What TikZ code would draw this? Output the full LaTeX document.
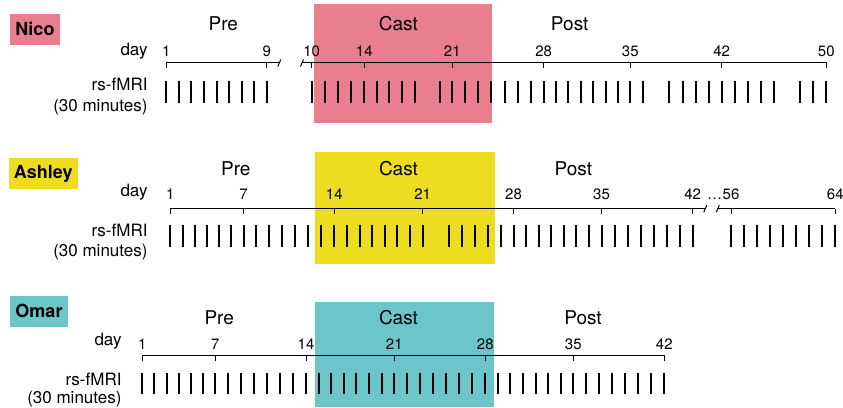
\documentclass[tikz,border=0pt]{standalone}
\usepackage{fontspec}
\setmainfont{TeX Gyre Heros}
\definecolor{nicoc}{RGB}{232,126,142}
\definecolor{ashc}{RGB}{238,220,32}
\definecolor{omarc}{RGB}{108,197,200}
\tikzset{
  phase/.style={font=\fontsize{19}{22}\selectfont, anchor=base, inner sep=0pt},
  num/.style={font=\fontsize{15}{18}\selectfont, anchor=base, inner sep=0pt},
  lab/.style={font=\fontsize{17}{20}\selectfont, anchor=base east, inner sep=0pt},
  namebox/.style={font=\fontsize{18}{21}\selectfont\bfseries, inner sep=0pt, anchor=center},
  scan/.style={line width=2pt},
  axisline/.style={line width=1pt},
  declare function={
    px(\t)=166.3+(\t-1)*12.55;
    nx(\t)=(\t<=14) ? (311.7+(\t-10)*13.15) : ((\t<=21) ? (364.3+(\t-14)*12.571) : ((\t<=28) ? (452.3+(\t-21)*13.057) : ((\t<=35) ? (543.7+(\t-28)*12.371) : ((\t<=42) ? (630.3+(\t-35)*13.057) : (721.7+(\t-42)*13.075)))));
    ax(\t)=(\t<=7) ? (170.3+(\t-1)*12.2) : ((\t<=14) ? (243.5+(\t-7)*12.971) : ((\t<=21) ? (334.3+(\t-14)*12.629) : ((\t<=28) ? (422.7+(\t-21)*12.971) : ((\t<=35) ? (513.5+(\t-28)*12.571) : ((\t<=42) ? (601.5+(\t-35)*13.029) : (731+(\t-56)*13.0375))))));
    ox(\t)=(\t<=7) ? (142.3+(\t-1)*12.167) : ((\t<=14) ? (215.3+(\t-7)*12.957) : ((\t<=21) ? (306+(\t-14)*12.614) : ((\t<=28) ? (394.3+(\t-21)*13) : ((\t<=35) ? (485.3+(\t-28)*12.571) : (573.3+(\t-35)*13)))));
  }
}
\begin{document}
\begin{tikzpicture}[x=1pt,y=-1pt]
\useasboundingbox (0,0) rectangle (843,407);
% cast periods
\fill[nicoc] (314,4) rectangle (491.7,122.7);
\fill[ashc] (315,152.3) rectangle (495,264.3);
\fill[omarc] (315,302.3) rectangle (494,407);

% ---------------- Nico ----------------
\node[namebox, fill=nicoc, minimum width=50pt, minimum height=30.7pt] (nico) at (35,29.3) {Nico};
\node[phase] (npre) at (223.3,30) {Pre};
\node[phase] (ncast) at (398.3,30) {Cast};
\node[phase] (npost) at (569.7,30) {Post};
\node[lab] (nday) at (147.7,55) {day};
\node[lab] (nrs) at (147.7,90) {rs-fMRI};
\node[lab] (nmin) at (147.7,111.5) {(30 minutes)};
\draw[axisline] (166.3,62) -- (279.3,62);
\draw[axisline] (277.8,66.5) -- (280.8,59.5);
\draw[axisline] (300.5,66.5) -- (303.5,59.5);
\draw[axisline] (302,62) -- (826.3,62);
\foreach \d in {1,9} {
  \draw[axisline] ({px(\d)},62) -- ({px(\d)},67.7);
  \node[num] (nl\d) at ({px(\d)},56.5) {\d};
}
\foreach \d in {10,14,21,28,35,42,50} {
  \draw[axisline] ({nx(\d)},62) -- ({nx(\d)},67.7);
  \node[num] (nl\d) at ({nx(\d)},56.5) {\d};
}
\foreach \d in {1,...,9} \draw[scan] ({px(\d)},81) -- ({px(\d)},102.5);
\foreach \d in {10,...,50} {
  \ifnum\d=19 \else\ifnum\d=37 \else\ifnum\d=47 \else
    \draw[scan] ({nx(\d)},81) -- ({nx(\d)},102.5);
  \fi\fi\fi
}

% ---------------- Ashley ----------------
\node[namebox, fill=ashc, minimum width=68.7pt, minimum height=30.4pt] (ashley) at (43.3,173.5) {Ashley};
\node[phase] (apre) at (235.8,175) {Pre};
\node[phase] (acast) at (398.5,175) {Cast};
\node[phase] (apost) at (573.3,175) {Post};
\node[lab] (aday) at (147.7,196.5) {day};
\node[lab] (ars) at (147.7,236.7) {rs-fMRI};
\node[lab] (amin) at (147.7,256.5) {(30 minutes)};
\draw[axisline] (170.3,208.7) -- (705.3,208.7);
\draw[axisline] (703.8,212.2) -- (706.8,205.2);
\draw[axisline] (716.3,212.2) -- (719.3,205.2);
\draw[axisline] (717.8,208.7) -- (835.3,208.7);
\node[num] (adots) at (714.5,199.5) {\dots};
\foreach \d in {1,7,14,21,28,35,42,56,64} {
  \draw[axisline] ({ax(\d)},208.7) -- ({ax(\d)},214.4);
  \node[num] (al\d) at ({ax(\d)},199.5) {\d};
}
\foreach \d in {1,...,42} {
  \ifnum\d=22 \else
    \draw[scan] ({ax(\d)},225) -- ({ax(\d)},246.7);
  \fi
}
\foreach \d in {56,...,64} \draw[scan] ({ax(\d)},225) -- ({ax(\d)},246.7);

% ---------------- Omar ----------------
\node[namebox, fill=omarc, minimum width=58pt, minimum height=30.7pt] (omar) at (39,311.3) {Omar};
\node[phase] (opre) at (219.2,324) {Pre};
\node[phase] (ocast) at (398.5,324) {Cast};
\node[phase] (opost) at (583,324) {Post};
\node[lab] (oday) at (121.7,345) {day};
\node[lab] (ors) at (121.7,385) {rs-fMRI};
\node[lab] (omin) at (121.7,403) {(30 minutes)};
\draw[axisline] (142.3,355.3) -- (664.3,355.3);
\foreach \d in {1,7,14,21,28,35,42} {
  \draw[axisline] ({ox(\d)},355.3) -- ({ox(\d)},361);
  \node[num] (ol\d) at ({ox(\d)},349.3) {\d};
}
\foreach \d in {1,...,42} \draw[scan] ({ox(\d)},373.3) -- ({ox(\d)},394.3);
\end{tikzpicture}
\end{document}
